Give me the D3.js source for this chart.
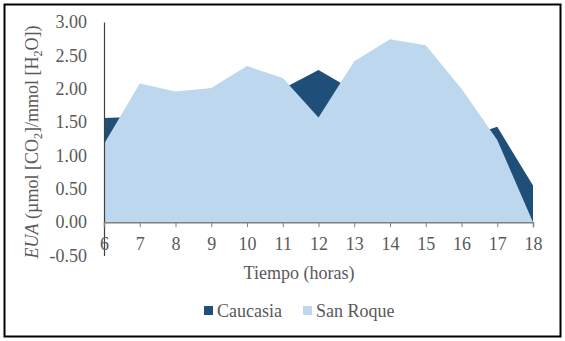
<!DOCTYPE html>
<html>
<head>
<meta charset="utf-8">
<script src="https://cdn.jsdelivr.net/npm/d3@7"></script>
<style>
  body { margin: 0; background: #fff; }
  svg text { font-family: "Liberation Serif", "DejaVu Serif", serif !important; }
</style>
</head>
<body>
<svg id="chart" width="565" height="341"></svg>
<script>
// hours on the x axis
const hours = [6, 7, 8, 9, 10, 11, 12, 13, 14, 15, 16, 17, 18];
// EUA values per site (hidden parts of Caucasia are estimates)
const caucasia = [1.56, 1.58, 1.7, 1.8, 1.95, 2.0, 2.28, 1.97, 2.2, 2.0, 1.25, 1.43, 0.55];
const sanRoque = [1.17, 2.08, 1.96, 2.01, 2.34, 2.16, 1.57, 2.41, 2.74, 2.65, 2.0, 1.23, 0.0];
const yTicks = [-0.5, 0, 0.5, 1, 1.5, 2, 2.5, 3];
const seriesNames = ["Caucasia", "San Roque"];
const colors = ["#1f4e79", "#bdd7ee"];
const fontSize = "18px";

const svg = d3.select("#chart");

// outer frame
svg.append("rect")
  .attr("x", 4.5).attr("y", 4.5)
  .attr("width", 556).attr("height", 332)
  .attr("fill", "none").attr("stroke", "#000").attr("stroke-width", 2);

const x = d3.scaleLinear().domain([6, 18]).range([104, 533]);
const y = d3.scaleLinear().domain([-0.5, 3]).range([255.5, 22]);

const area = d3.area()
  .x((d, i) => x(hours[i]))
  .y0(y(0))
  .y1(d => y(d));

// Caucasia behind, San Roque in front
svg.append("path").attr("d", area(caucasia)).attr("fill", colors[0]);
svg.append("path").attr("d", area(sanRoque)).attr("fill", colors[1]);

// y axis: line only, labels on the left
const yAxis = svg.append("g")
  .attr("transform", `translate(${x(6)},0)`)
  .call(d3.axisLeft(y).tickValues(yTicks).tickSize(0).tickPadding(17));
yAxis.select(".domain").attr("stroke", "#404040").attr("stroke-width", 1.2);
yAxis.selectAll("text")
  .attr("fill", "#595959")
  .style("font-size", fontSize)
  .text(d => d < 0 ? "-" + d3.format(".2f")(-d) : d3.format(".2f")(d));

// x axis at zero, ticks pointing down
const xAxis = svg.append("g")
  .attr("transform", `translate(0,${y(0)})`)
  .call(d3.axisBottom(x).tickValues(hours).tickFormat(d3.format("d")).tickSizeOuter(0).tickSize(5).tickPadding(10));
xAxis.select(".domain").attr("stroke", "#7f7f7f").attr("stroke-width", 1.5);
xAxis.selectAll(".tick line").attr("stroke", "#7f7f7f");
xAxis.selectAll("text")
  .attr("fill", "#595959")
  .style("font-size", fontSize);

// x axis title
svg.append("text")
  .attr("x", 299).attr("y", 279)
  .attr("text-anchor", "middle")
  .attr("fill", "#595959")
  .style("font-size", fontSize)
  .text("Tiempo (horas)");

// y axis title with italic EUA and subscripts
const yt = svg.append("text")
  .attr("transform", "translate(38,142) rotate(-90)")
  .attr("text-anchor", "middle")
  .attr("fill", "#595959")
  .style("font-size", fontSize);
yt.append("tspan").style("font-style", "italic").text("EUA");
yt.append("tspan").text(" (µmol [CO");
yt.append("tspan").attr("dy", 4).style("font-size", "12px").text("2");
yt.append("tspan").attr("dy", -4).text("]/mmol [H");
yt.append("tspan").attr("dy", 4).style("font-size", "12px").text("2");
yt.append("tspan").attr("dy", -4).text("O])");

// legend
const legendX = [204, 303];
const legend = svg.append("g");
seriesNames.forEach((name, i) => {
  legend.append("rect")
    .attr("x", legendX[i]).attr("y", 306)
    .attr("width", 9).attr("height", 9)
    .attr("fill", colors[i]);
  legend.append("text")
    .attr("x", legendX[i] + 13).attr("y", 317)
    .attr("fill", "#595959")
    .style("font-size", fontSize)
    .text(name);
});
</script>
</body>
</html>
